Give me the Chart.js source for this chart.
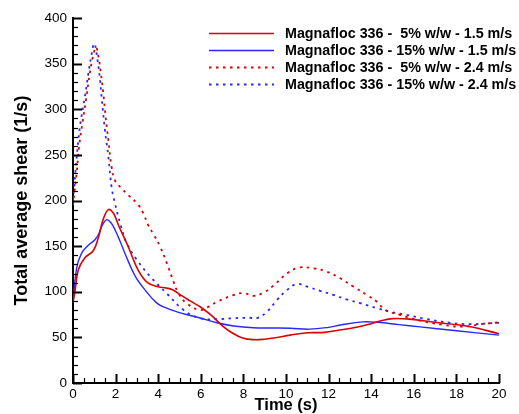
<!DOCTYPE html>
<html>
<head>
<meta charset="utf-8">
<script src="https://cdn.jsdelivr.net/npm/chart.js@4/dist/chart.umd.min.js"></script>
<style>
html,body{margin:0;padding:0;background:#fff;}
#wrap{width:519px;height:414px;position:relative;}
</style>
</head>
<body>
<div id="wrap"><canvas id="c" width="519" height="414"></canvas></div>
<script>
// ---- data ----
const seriesLabels = [
  "Magnafloc 336 -  5% w/w - 1.5 m/s",
  "Magnafloc 336 - 15% w/w - 1.5 m/s",
  "Magnafloc 336 -  5% w/w - 2.4 m/s",
  "Magnafloc 336 - 15% w/w - 2.4 m/s"
];

const t5_15 = [0, 0.1, 0.25, 0.55, 0.95, 1.2, 1.4, 1.66, 1.9, 2.15, 2.6, 3.05, 3.5, 4.0, 4.4, 4.7, 5.05, 5.5, 6.0, 6.5, 7.0, 7.5, 8.0, 8.5, 9.0, 9.5, 10.2, 11.0, 11.8, 12.5, 13.3, 14.0, 14.5, 15.0, 15.8, 17.0, 18.6, 20];
const v5_15 = [88, 102, 124, 137, 145, 160, 178, 190, 186, 172, 149, 124, 110, 105.5, 104, 102, 96.5, 90, 83, 74, 63, 54.5, 49, 47.5, 48, 49.5, 52.5, 55, 55.5, 58, 61, 65, 68.5, 70.5, 70, 66.5, 62, 54];

const t15_15 = [0, 0.17, 0.4, 0.72, 1.03, 1.2, 1.34, 1.58, 1.8, 1.97, 2.2, 2.44, 2.9, 3.38, 3.94, 4.4, 4.88, 5.5, 6.0, 6.76, 7.54, 8.47, 9.4, 10.2, 11.1, 12.0, 12.55, 13.6, 14.3, 15.3, 16.3, 17.9, 20];
const v15_15 = [88, 126, 142, 151, 157, 163, 171, 179, 175, 168, 156, 142, 118, 102, 87.5, 82, 78, 74, 71, 66, 62.5, 60.5, 60.3, 60, 59, 61, 63.5, 67, 66.5, 64, 61.5, 57.5, 52.5];

const t5_24 = [0, 0.17, 0.3, 0.45, 0.62, 0.78, 0.92, 1.08, 1.2, 1.31, 1.42, 1.53, 1.66, 1.81, 1.97, 2.25, 2.6, 3.07, 3.3, 3.53, 3.78, 4.1, 4.41, 4.72, 4.96, 5.35, 5.98, 6.4, 6.76, 7.54, 8.0, 8.48, 8.95, 9.42, 10.05, 10.6, 11.3, 11.92, 12.55, 13.17, 13.8, 14.27, 14.66, 15.37, 16.3, 17.4, 18.34, 19.1, 20];
const v5_24 = [195, 230, 262, 286, 312, 338, 356, 368, 357, 339, 318, 292, 266, 237, 222, 214, 206, 195, 186, 173, 163, 149, 131, 111, 98, 87, 80, 84, 89, 96.4, 98.5, 95.5, 99, 107, 120, 126.4, 125.7, 122, 114.7, 105.5, 96.4, 89, 80, 74.5, 68.3, 63.6, 61.7, 64.3, 66.5];

const t15_24 = [0, 0.06, 0.12, 0.25, 0.37, 0.56, 0.72, 0.85, 1.0, 1.15, 1.27, 1.34, 1.5, 1.66, 1.81, 1.97, 2.25, 2.53, 3.0, 3.63, 4.41, 5.19, 5.98, 6.76, 7.54, 8.3, 8.64, 9.1, 9.58, 10.05, 10.5, 11.0, 11.6, 12.23, 12.86, 13.49, 14.27, 14.9, 15.68, 16.62, 17.7, 18.65, 20];
const v15_24 = [200, 215, 233, 266, 288, 314, 339, 357, 372, 354, 332, 314, 277, 248, 215, 197, 172, 153, 135, 116.5, 98, 80, 71, 70, 71, 71.5, 71, 78, 91, 102, 108.5, 105.5, 101, 96.5, 91.5, 87.5, 82, 78, 74.5, 70, 66, 64.5, 66];

const xTicksMajor = [0, 2, 4, 6, 8, 10, 12, 14, 16, 18, 20];
const yTicksMajor = [0, 50, 100, 150, 200, 250, 300, 350, 400];

// ---- styling ----
const RED = 'rgb(220,0,0)';
const BLUE = 'rgb(40,40,255)';
const FONT = "'Liberation Sans', Arial, sans-serif";

function pts(t, v){ return t.map((x,i)=>({x:x, y:v[i]})); }

const datasets = [
  {label: seriesLabels[0], data: pts(t5_15, v5_15), borderColor: RED, borderWidth: 1.6, borderDash: []},
  {label: seriesLabels[1], data: pts(t15_15, v15_15), borderColor: BLUE, borderWidth: 1.4, borderDash: []},
  {label: seriesLabels[2], data: pts(t5_24, v5_24), borderColor: RED, borderWidth: 1.8, borderDash: [2.5, 4.5]},
  {label: seriesLabels[3], data: pts(t15_24, v15_24), borderColor: BLUE, borderWidth: 1.8, borderDash: [2.5, 4.5]}
].map(d => Object.assign(d, {pointRadius: 0, fill: false, tension: 0.4}));

const ticksPlugin = {
  id: 'insideTicks',
  afterDraw(chart){
    const ctx = chart.ctx, xs = chart.scales.x, ys = chart.scales.y;
    const ca = chart.chartArea;
    ctx.save();
    ctx.strokeStyle = '#000';
    for (let v = 0; v <= 400; v += 10){
      const y = Math.round(ys.getPixelForValue(v)) + 0.5;
      const major = (v % 50 === 0);
      ctx.lineWidth = major ? 2 : 1.2;
      ctx.beginPath(); ctx.moveTo(ca.left, y); ctx.lineTo(ca.left + (major ? 9 : 5), y); ctx.stroke();
    }
    for (let k = 0; k <= 40; k++){
      const v = k * 0.5;
      const x = Math.round(xs.getPixelForValue(v)) + 0.5;
      const major = (k % 4 === 0);
      ctx.lineWidth = major ? 2 : 1.2;
      ctx.beginPath(); ctx.moveTo(x, ca.bottom); ctx.lineTo(x, ca.bottom - (major ? 9 : 5)); ctx.stroke();
    }
    ctx.restore();
  }
};

const legendPlugin = {
  id: 'customLegend',
  afterDraw(chart){
    const ctx = chart.ctx;
    ctx.save();
    ctx.font = "bold 14.3px " + FONT;
    ctx.textBaseline = 'middle';
    ctx.fillStyle = '#000';
    const rows = [33, 50, 67, 84];
    chart.data.datasets.forEach((d, i) => {
      const y = rows[i];
      ctx.strokeStyle = d.borderColor;
      ctx.lineWidth = d.borderWidth;
      ctx.setLineDash(d.borderDash || []);
      ctx.beginPath(); ctx.moveTo(209, y + 0.5); ctx.lineTo(274, y + 0.5); ctx.stroke();
      ctx.setLineDash([]);
      ctx.fillText(d.label, 285, y + 1);
    });
    ctx.restore();
  }
};

new Chart(document.getElementById('c'), {
  type: 'line',
  data: {datasets},
  options: {
    responsive: false,
    animation: false,
    devicePixelRatio: 1,
    layout: {padding: {top: 18, right: 20, left: 0, bottom: 0}},
    plugins: {legend: {display: false}, tooltip: {enabled: false}},
    scales: {
      x: {
        type: 'linear', min: 0, max: 20,
        afterFit(s){ s.height = 31; },
        afterBuildTicks(s){ s.ticks = xTicksMajor.map(v => ({value: v})); },
        grid: {drawOnChartArea: false, drawTicks: false},
        border: {display: true, color: '#000', width: 2},
        ticks: {color: '#000', padding: 3, maxRotation: 0, font: {family: FONT, size: 13.5}},
        title: {display: true, text: 'Time (s)', color: '#000', padding: {top: 0, bottom: 0}, font: {family: FONT, size: 16.5, weight: 'bold', lineHeight: 1}}
      },
      y: {
        type: 'linear', min: 0, max: 400,
        afterFit(s){ s.width = 73; },
        afterBuildTicks(s){ s.ticks = yTicksMajor.map(v => ({value: v})); },
        grid: {drawOnChartArea: false, drawTicks: false},
        border: {display: true, color: '#000', width: 2},
        ticks: {color: '#000', padding: 6, font: {family: FONT, size: 13.5}},
        title: {display: true, text: 'Total average shear (1/s)', color: '#000', padding: {top: 13, bottom: 0}, font: {family: FONT, size: 18, weight: 'bold', lineHeight: 1}}
      }
    }
  },
  plugins: [ticksPlugin, legendPlugin]
});
</script>
</body>
</html>
